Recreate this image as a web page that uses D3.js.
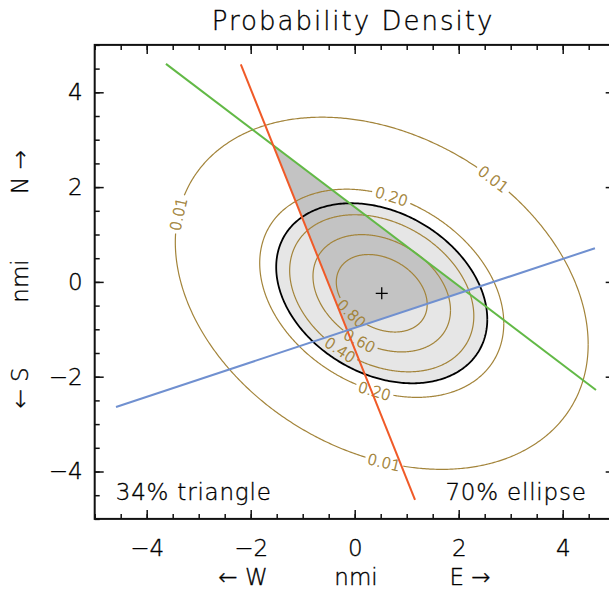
<!DOCTYPE html>
<html>
<head>
<meta charset="utf-8">
<script src="https://cdn.jsdelivr.net/npm/d3@7"></script>
<style>
  body { margin: 0; background: #fff; }
  svg { display: block; overflow: hidden; }
  text { font-family: "DejaVu Sans", sans-serif; font-weight: 200; fill: #000; stroke: #000; stroke-width: 0.35px; }
</style>
</head>
<body>
<svg id="chart"></svg>
<script>
(() => {

  // axis ranges and ticks (nmi)
  const xDomain = [-5, 5];
  const yDomain = [-5, 5];
  const majorTicks = [-4, -2, 0, 2, 4];
  const minorStep = 0.5;

  // bivariate normal estimate of position
  const center = [0.52, -0.24];
  const sigma = [1.308, 1.224];
  const rho = -0.29;

  // contour levels (fraction of peak density) and where their labels sit
  const contourLevels = [0.01, 0.20, 0.40, 0.60, 0.80];
  const labelLevels = [0.01, 0.01, 0.01, 0.20, 0.20, 0.40, 0.60, 0.80];
  const labelAngles = [2.97, 1.0, -1.56, 1.49, -1.63, -2.04, -1.9, -2.3];

  // probability ellipse
  const ellipseProb = 0.70;

  // lines of position: start and end points
  const lineNames = ['green', 'red', 'blue'];
  const lineStarts = [[-3.63, 4.60], [-2.19, 4.59], [-4.59, -2.64]];
  const lineEnds = [[4.64, -2.28], [1.16, -4.60], [4.62, 0.71]];
  const lineColors = ['#62b946', '#f05a28', '#7090d0'];

  const notes = ['34% triangle', '70% ellipse'];

  const svgWidth = 609;
  const svgHeight = 591;
  const margin = { top: 44.9, left: 94.7, right: -5.7, bottom: 72.1 };
  const width = svgWidth - (margin.left + margin.right);
  const height = svgHeight - (margin.top + margin.bottom);

  const svg = d3.select('#chart')
    .attr('width', svgWidth)
    .attr('height', svgHeight);

  const g = svg.append('g')
    .attr('transform', `translate(${margin.left}, ${margin.top})`);

  const xScale = d3.scaleLinear().domain(xDomain).range([0, width]);
  const yScale = d3.scaleLinear().domain(yDomain).range([height, 0]);

  const line = d3.line()
    .x(d => xScale(d[0]))
    .y(d => yScale(d[1]));

  const c = Math.sqrt(1 - rho * rho);
  const ellipsePoint = (r, t) => [
    center[0] + r * sigma[0] * Math.cos(t),
    center[1] + r * sigma[1] * (rho * Math.cos(t) + c * Math.sin(t))
  ];
  const ellipse = (r, n = 360) => d3.range(n + 1).map(i => ellipsePoint(r, i / n * 2 * Math.PI));
  const radiusOf = level => Math.sqrt(-2 * Math.log(level));

  // filled 70% ellipse
  const rEll = Math.sqrt(-2 * Math.log(1 - ellipseProb));
  g.append('path')
    .datum(ellipse(rEll))
    .attr('fill', '#e6e6e6')
    .attr('d', line);

  // triangle from the line intersections
  const intersect = (a1, a2, b1, b2) => {
    const d = (a1[0] - a2[0]) * (b1[1] - b2[1]) - (a1[1] - a2[1]) * (b1[0] - b2[0]);
    const ta = ((a1[0] - b1[0]) * (b1[1] - b2[1]) - (a1[1] - b1[1]) * (b1[0] - b2[0])) / d;
    return [a1[0] + ta * (a2[0] - a1[0]), a1[1] + ta * (a2[1] - a1[1])];
  };
  const triangle = [[0, 1], [1, 2], [2, 0]]
    .map(([i, j]) => intersect(lineStarts[i], lineEnds[i], lineStarts[j], lineEnds[j]));
  g.append('path')
    .datum(triangle)
    .attr('fill', '#c3c3c3')
    .attr('d', d => line(d) + 'Z');

  // contour labels
  const labels = labelLevels.map((level, i) => {
    const r = radiusOf(level);
    const t = labelAngles[i];
    const p = ellipsePoint(r, t);
    const q = ellipsePoint(r, t + 0.001);
    let ang = Math.atan2(yScale(q[1]) - yScale(p[1]), xScale(q[0]) - xScale(p[0])) * 180 / Math.PI;
    if (ang > 90) ang -= 180;
    if (ang <= -90) ang += 180;
    return { level, x: xScale(p[0]), y: yScale(p[1]), ang };
  });

  // contours, broken where a label sits
  contourLevels.forEach(level => {
    const pts = ellipse(radiusOf(level), 720);
    const mine = labels.filter(l => l.level === level);
    const segments = [];
    let current = [];
    pts.forEach(p => {
      const px = xScale(p[0]);
      const py = yScale(p[1]);
      const hidden = mine.some(l => Math.hypot(px - l.x, py - l.y) < 19);
      if (hidden) {
        if (current.length > 1) segments.push(current);
        current = [];
      } else {
        current.push(p);
      }
    });
    if (current.length > 1) segments.push(current);
    g.selectAll(null)
      .data(segments)
      .enter()
      .append('path')
      .attr('fill', 'none')
      .attr('stroke', '#a3843a')
      .attr('stroke-width', 1.2)
      .attr('d', line);
  });

  g.selectAll('.clabel')
    .data(labels)
    .enter()
    .append('text')
    .attr('class', 'clabel')
    .attr('transform', d => `translate(${d.x}, ${d.y}) rotate(${d.ang})`)
    .attr('text-anchor', 'middle')
    .attr('dy', '0.36em')
    .style('font-size', '15px')
    .style('fill', '#a3843a')
    .style('stroke', '#a3843a')
    .style('stroke-width', '0.5px')
    .text(d => d.level.toFixed(2));

  // 70% ellipse outline
  g.append('path')
    .datum(ellipse(rEll))
    .attr('fill', 'none')
    .attr('stroke', '#000')
    .attr('stroke-width', 1.8)
    .attr('d', line);

  // lines of position
  g.selectAll('.lop')
    .data(lineNames)
    .enter()
    .append('path')
    .attr('class', 'lop')
    .attr('fill', 'none')
    .attr('stroke', (d, i) => lineColors[i])
    .attr('stroke-width', 2)
    .attr('d', (d, i) => line([lineStarts[i], lineEnds[i]]));

  // centre mark
  const cx = xScale(center[0]);
  const cy = yScale(center[1]);
  g.append('path')
    .attr('d', `M${cx - 6},${cy}H${cx + 6}M${cx},${cy - 6}V${cy + 6}`)
    .attr('stroke', '#000')
    .attr('stroke-width', 1.3);

  // axes: box with inward ticks on every side
  const minor = d3.range(xDomain[0], xDomain[1] + 1e-9, minorStep);
  const addAxis = (axis, scale, transform, values, size, labelled, pad) => {
    const a = g.append('g')
      .attr('transform', transform)
      .call(axis(scale).tickValues(values).tickSizeInner(-size).tickSizeOuter(0)
        .tickPadding(pad).tickFormat(labelled ? d3.format('d') : ''));
    a.select('.domain').remove();
    a.selectAll('line').attr('stroke', '#111').attr('stroke-width', 1.5);
    a.selectAll('text').style('font-size', '23px').attr('font-family', null).attr('fill', null);
    return a;
  };
  addAxis(d3.axisBottom, xScale, `translate(0, ${height})`, minor, 5, false, 0);
  addAxis(d3.axisBottom, xScale, `translate(0, ${height})`, majorTicks, 9, true, 21);
  addAxis(d3.axisTop, xScale, 'translate(0, 0)', minor, 5, false, 0);
  addAxis(d3.axisTop, xScale, 'translate(0, 0)', majorTicks, 9, false, 0);
  addAxis(d3.axisLeft, yScale, 'translate(0, 0)', minor, 5, false, 0);
  addAxis(d3.axisLeft, yScale, 'translate(0, 0)', majorTicks, 9, true, 12);
  addAxis(d3.axisRight, yScale, `translate(${width}, 0)`, minor, 5, false, 0);
  addAxis(d3.axisRight, yScale, `translate(${width}, 0)`, majorTicks, 9, false, 0);

  g.append('rect')
    .attr('width', width)
    .attr('height', height)
    .attr('fill', 'none')
    .attr('stroke', '#111')
    .attr('stroke-width', 2);

  // notes inside the plot
  g.append('text')
    .attr('x', 21)
    .attr('y', height - 19)
    .style('font-size', '23px')
    .style('letter-spacing', '0.8px')
    .text(notes[0]);
  g.append('text')
    .attr('x', 492)
    .attr('y', height - 19)
    .attr('text-anchor', 'end')
    .style('font-size', '23px')
    .style('letter-spacing', '0.8px')
    .text(notes[1]);

  // titles
  svg.append('text')
    .attr('x', 353)
    .attr('y', 30)
    .attr('text-anchor', 'middle')
    .style('font-size', '26px')
    .style('letter-spacing', '2px')
    .text('Probability Density');

  const xLab = [['\u2190 W', 243], ['nmi', 356], ['E \u2192', 470]];
  svg.selectAll('.xlab')
    .data(xLab)
    .enter()
    .append('text')
    .attr('class', 'xlab')
    .attr('x', d => d[1])
    .attr('y', 585)
    .attr('text-anchor', 'middle')
    .style('font-size', '23px')
    .text(d => d[0]);

  const yLab = [['\u2190 S', 388], ['nmi', 281], ['N \u2192', 172]];
  svg.selectAll('.ylab')
    .data(yLab)
    .enter()
    .append('text')
    .attr('class', 'ylab')
    .attr('transform', d => `translate(28, ${d[1]}) rotate(-90)`)
    .attr('text-anchor', 'middle')
    .style('font-size', '23px')
    .text(d => d[0]);

})();
</script>
</body>
</html>
